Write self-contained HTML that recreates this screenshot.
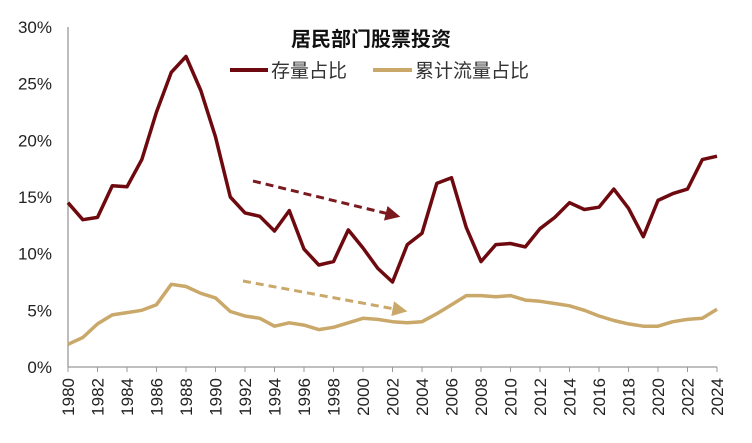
<!DOCTYPE html>
<html><head><meta charset="utf-8"><style>
body{margin:0;background:#fff;}
svg{display:block;font-family:"Liberation Sans","Noto Sans CJK SC",sans-serif;}
</style></head><body>
<svg id="chart" width="752" height="443" viewBox="0 0 752 443">
<text x="371" y="46" text-anchor="middle" font-size="20" font-weight="bold" fill="#111">居民部门股票投资</text>
<g>
<line x1="230" y1="70" x2="268" y2="70" stroke="#6e0a0f" stroke-width="4"/>
<text x="271" y="77" font-size="19" fill="#333">存量占比</text>
<line x1="373" y1="70" x2="412" y2="70" stroke="#c9a86a" stroke-width="4"/>
<text x="415" y="77" font-size="19" fill="#333">累计流量占比</text>
</g>
<g id="axes"></g>
<g id="marks"></g>
<g>
<defs>
<marker id="ad" markerWidth="5" markerHeight="5" refX="2.5" refY="2.5" orient="auto" markerUnits="strokeWidth"><path d="M0,0 L5,2.5 L0,5 Z" fill="#7a1a1f"/></marker>
<marker id="at" markerWidth="5" markerHeight="5" refX="2.5" refY="2.5" orient="auto" markerUnits="strokeWidth"><path d="M0,0 L5,2.5 L0,5 Z" fill="#c9a86a"/></marker>
</defs>
<line x1="253" y1="181" x2="393" y2="215" stroke="#7a1a1f" stroke-width="3" stroke-dasharray="8,5" marker-end="url(#ad)"/>
<line x1="243" y1="281" x2="400" y2="310" stroke="#c9a86a" stroke-width="3" stroke-dasharray="8,5" marker-end="url(#at)"/>
</g>
</svg>
<script>
const years=[1980,1981,1982,1983,1984,1985,1986,1987,1988,1989,1990,1991,1992,1993,1994,1995,1996,1997,1998,1999,2000,2001,2002,2003,2004,2005,2006,2007,2008,2009,2010,2011,2012,2013,2014,2015,2016,2017,2018,2019,2020,2021,2022,2023,2024];
const stockShare=[14.5,13.0,13.2,16.0,15.9,18.3,22.5,26.0,27.4,24.4,20.3,15.0,13.6,13.3,12.0,13.8,10.4,9.0,9.3,12.1,10.5,8.7,7.5,10.8,11.8,16.2,16.7,12.3,9.3,10.8,10.9,10.6,12.2,13.2,14.5,13.9,14.1,15.7,14.0,11.5,14.7,15.3,15.7,18.3,18.6];
const flowShare=[2.0,2.6,3.8,4.6,4.8,5.0,5.5,7.3,7.1,6.5,6.1,4.9,4.5,4.3,3.6,3.9,3.7,3.3,3.5,3.9,4.3,4.2,4.0,3.9,4.0,4.7,5.5,6.3,6.3,6.2,6.3,5.9,5.8,5.6,5.4,5.0,4.5,4.1,3.8,3.6,3.6,4.0,4.2,4.3,5.1];
const yTicks=[0,5,10,15,20,25,30];
const NS='http://www.w3.org/2000/svg';
const x0=68,x1=717,yb=367,yt=27;
function xs(yr){return x0+(yr-1980)/(2024-1980)*(x1-x0);}
function ys(v){return yb-v/30*(yb-yt);}
function mk(t,a,p){const e=document.createElementNS(NS,t);for(const k in a)e.setAttribute(k,a[k]);p.appendChild(e);return e;}
const axes=document.getElementById('axes'),marks=document.getElementById('marks');
const ya=mk('line',{x1:x0,y1:yt,x2:x0,y2:yb,stroke:'#999','stroke-width':1.3},axes);


const xa=mk('line',{x1:x0,y1:yb,x2:x1,y2:yb,stroke:'#999','stroke-width':1.3},axes);


yTicks.forEach(v=>{
 const t=mk('text',{x:52,y:ys(v)+6,'text-anchor':'end','font-size':17,fill:'#222'},axes);
 t.textContent=v+'%';
 
 
});
years.forEach(yr=>{
 if((yr-1980)%2)return;
 const x=xs(yr);
 const tk=mk('line',{x1:x,y1:yb,x2:x,y2:yb+5,stroke:'#999','stroke-width':1},axes);
 
 
 const t=mk('text',{x:0,y:0,'font-size':17,fill:'#222','text-anchor':'end',transform:`translate(${x+6},378) rotate(-90)`},axes);
 t.textContent=yr;
 
 
});
function line(vals,color,name){
 const d=vals.map((v,i)=>(i?'L':'M')+xs(years[i]).toFixed(1)+','+ys(v).toFixed(1)).join(' ');
 const p=mk('path',{d:d,fill:'none',stroke:color,'stroke-width':3.5,'stroke-linejoin':'round'},marks);
 
 
}
line(flowShare,'#c9a86a','flow-share-line');
line(stockShare,'#6e0a0f','stock-share-line');
</script>
</body></html>
